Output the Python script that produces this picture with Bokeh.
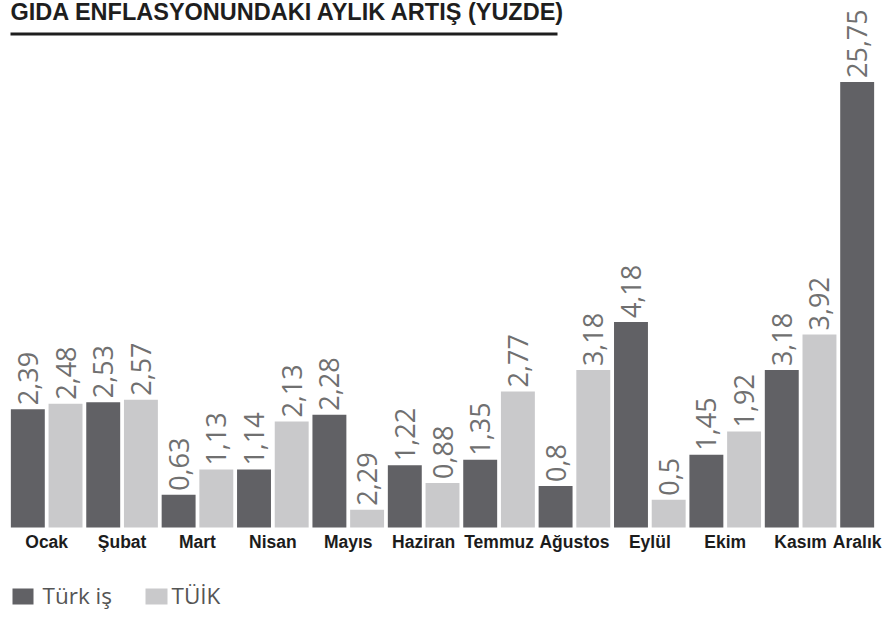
from math import pi
from bokeh.plotting import figure
from bokeh.models import FactorRange, Range1d, ColumnDataSource, Label, BoxAnnotation
from bokeh.core.properties import value
from bokeh.embed import file_html
from bokeh.resources import INLINE

# ---- data ----
months = ["Ocak", "Şubat", "Mart", "Nisan", "Mayıs", "Haziran", "Temmuz",
          "Ağustos", "Eylül", "Ekim", "Kasım", "Aralık"]
series = ["Türk iş", "TÜİK"]
turk_is = [2.39, 2.53, 0.63, 1.14, 2.28, 1.22, 1.35, 0.8, 4.18, 1.45, 3.18, 25.75]
tuik = [2.48, 2.57, 1.13, 2.13, 2.29, 0.88, 2.77, 3.18, 0.5, 1.92, 3.92]
# bar heights as drawn in the picture (the chart is not fully to scale)
turk_is_drawn = [2.39, 2.53, 0.66, 1.17, 2.28, 1.26, 1.37, 0.84, 4.15, 1.47, 3.18, 9.0]
tuik_drawn = [2.50, 2.58, 1.17, 2.14, 0.36, 0.90, 2.75, 3.18, 0.56, 1.94, 3.90]
title = "GIDA ENFLASYONUNDAKI AYLIK ARTIŞ (YUZDE)"

DARK = "#616165"
LIGHT = "#c9c9cb"

def fmt(v):
    return ("%g" % v).replace(".", ",")

xs, tops, labels, colors = [], [], [], []
for i, m in enumerate(months):
    xs.append((m, series[0])); tops.append(turk_is_drawn[i]); labels.append(fmt(turk_is[i])); colors.append(DARK)
    if i < len(tuik):
        xs.append((m, series[1])); tops.append(tuik_drawn[i]); labels.append(fmt(tuik[i])); colors.append(LIGHT)

src = ColumnDataSource(dict(x=xs, top=tops, label=labels, color=colors))

W, H = 884, 617
PX = 49.5                 # pixels per percentage point
Y0 = 527                  # baseline position from top
YTOP = Y0 / PX
YBOT = -(H - Y0) / PX

def ypix(py):             # data y of a pixel row measured from the top
    return YTOP - py / PX

p = figure(width=W, height=H, output_backend="svg", toolbar_location=None,
           x_range=FactorRange(factors=xs, factor_padding=0, group_padding=0,
                               range_padding=0.225, range_padding_units="absolute"),
           y_range=Range1d(YBOT, YTOP),
           x_axis_location=None, y_axis_location=None, min_border=0,
           background_fill_color="white", border_fill_color="white")
p.outline_line_color = None
p.xgrid.visible = False
p.ygrid.visible = False

p.vbar(x="x", top="top", width=0.9, fill_color="color", line_color=None, source=src)

p.text(x="x", y="top", text="label", source=src, angle=pi / 2,
       text_align="left", text_baseline="middle", y_offset=-4,
       text_font=value("Open Sans"), text_font_size="27px", text_color="#707070")

p.text(x=months, y=[0] * len(months), text=months, y_offset=14,
       text_align="center", text_baseline="alphabetic",
       text_font=value("Liberation Sans"), text_font_style="bold",
       text_font_size="17.5px", text_color="#1c1c1c")

# title and rule
p.add_layout(Label(x=10, y=ypix(11), x_units="screen", text=title,
                   text_font="Liberation Sans", text_font_style="bold",
                   text_font_size="23.5px", text_color="#1e1e1e",
                   text_baseline="alphabetic", text_align="left"))
p.add_layout(BoxAnnotation(left=10, right=557, left_units="screen", right_units="screen",
                           top=ypix(32), bottom=ypix(35),
                           fill_color="#1e1e1e", fill_alpha=1, line_color=None))

# legend
for (x0, x1, tx, col, name) in [(12, 33, 42, DARK, series[0]), (145, 167, 171, LIGHT, series[1])]:
    p.add_layout(BoxAnnotation(left=x0, right=x1, left_units="screen", right_units="screen",
                               top=ypix(588), bottom=ypix(604),
                               fill_color=col, fill_alpha=1, line_color=None))
    p.add_layout(Label(x=tx, y=ypix(595), x_units="screen", text=name,
                       text_font="Open Sans", text_font_size="22.5px", text_color="#555555",
                       text_baseline="alphabetic", text_align="left"))

open("out.html", "w").write(file_html(p, INLINE))
